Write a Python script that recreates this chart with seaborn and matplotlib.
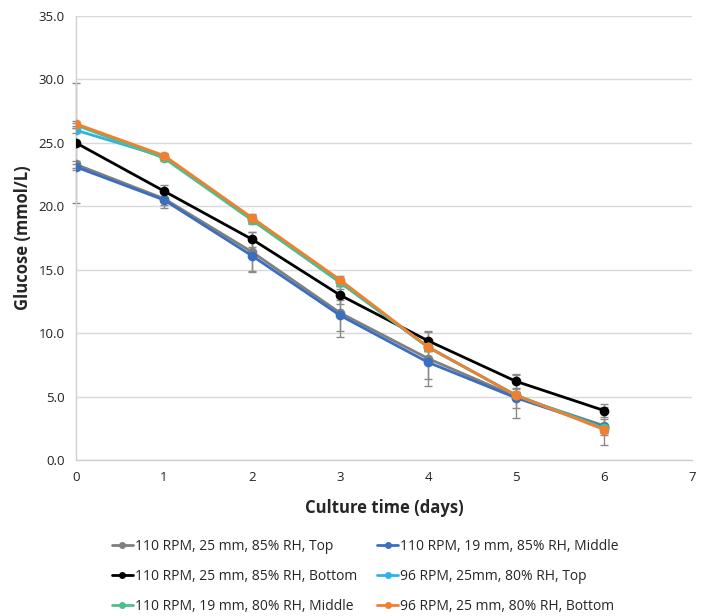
import numpy as np
import pandas as pd
import matplotlib
matplotlib.use("Agg")
import matplotlib.pyplot as plt
import seaborn as sns

days = [0, 1, 2, 3, 4, 5, 6]

series_names = [
    '110 RPM, 25 mm, 85% RH, Top',
    '110 RPM, 19 mm, 85% RH, Middle',
    '110 RPM, 25 mm, 85% RH, Bottom',
    '96 RPM, 25mm, 80% RH, Top',
    '110 RPM, 19 mm, 80% RH, Middle',
    '96 RPM, 25 mm, 80% RH, Bottom',
]
colors = ['#7F7F7F', '#3A6FC0', '#000000', '#2FB3E6', '#4DBF8C', '#F08030']

gray_top = [23.3, 20.6, 16.4, 11.6, 8.0, 5.0, 2.7]
blue_mid = [23.1, 20.5, 16.1, 11.4, 7.7, 4.9, 2.6]
black_bot = [25.0, 21.2, 17.4, 13.0, 9.4, 6.2, 3.9]
cyan_top = [26.0, 23.9, 19.0, 14.0, 8.9, 5.1, 2.5]
green_mid = [26.4, 23.8, 18.9, 14.0, 8.9, 5.1, 2.5]
orange_bot = [26.5, 24.0, 19.1, 14.2, 8.9, 5.1, 2.4]

gray_err = [0.3, 0.5, 1.6, 1.9, 2.2, 1.7, 1.5]
blue_err = [0.2, 0.6, 1.2, 1.2, 1.3, 0.8, 0.6]
black_err = [4.7, 0.5, 0.6, 0.7, 0.7, 0.6, 0.5]
cyan_err = [0.2, 0.2, 0.3, 0.3, 0.3, 0.3, 0.3]
green_err = [0.2, 0.2, 0.3, 0.3, 0.3, 0.3, 0.3]
orange_err = [0.2, 0.2, 0.3, 0.3, 0.3, 0.3, 0.3]

values = [gray_top, blue_mid, black_bot, cyan_top, green_mid, orange_bot]
errors = [gray_err, blue_err, black_err, cyan_err, green_err, orange_err]

rows = []
for name, vals in zip(series_names, values):
    for d, v in zip(days, vals):
        rows.append({'day': d, 'glucose': v, 'series': name})
df = pd.DataFrame(rows)

sns.set_style('white')
plt.rcParams['font.family'] = ['Open Sans', 'DejaVu Sans']

fig = plt.figure(figsize=(7.07, 6.16), dpi=100)
ax = fig.add_axes([0.1075, 0.2532, 0.8715, 0.7208])

# error bars behind the lines
for vals, err in zip(values, errors):
    ax.errorbar(days, vals, yerr=err, fmt='none', ecolor='#8A8A8A',
                elinewidth=1, capsize=3, capthick=1, zorder=1, clip_on=False)

sns.lineplot(data=df, x='day', y='glucose', hue='series', hue_order=series_names,
             palette=dict(zip(series_names, colors)), marker='o', markersize=7,
             markeredgewidth=0, linewidth=2, ax=ax, zorder=3, legend=False)

ax.set_xlim(0, 7)
ax.set_ylim(0, 35)
ax.set_xticks(range(0, 8))
ax.set_yticks(np.arange(0, 36, 5))
ax.set_yticklabels([f'{v:.1f}' for v in np.arange(0, 36, 5)])
ax.tick_params(axis='both', length=0, labelsize=9.5, colors='#222222')
ax.tick_params(axis='y', pad=8)
ax.tick_params(axis='x', pad=8)
ax.grid(axis='y', color='#D9D9D9', linewidth=1)
ax.set_axisbelow(True)
for s in ['top', 'right']:
    ax.spines[s].set_visible(False)
for s in ['left', 'bottom']:
    ax.spines[s].set_color('#D0D0D0')
    ax.spines[s].set_linewidth(1)

ax.set_xlabel('Culture time (days)', fontsize=12, fontweight='bold', labelpad=11)
ax.set_ylabel('Glucose (mmol/L)', fontsize=12, fontweight='bold', labelpad=5)

# legend laid out row by row: two columns
order = [0, 2, 4, 1, 3, 5]
handles = [plt.Line2D([], [], color=colors[i], marker='o', markersize=4,
                      linewidth=2) for i in order]
labels = [series_names[i] for i in order]
fig.legend(handles, labels, loc='upper left', bbox_to_anchor=(0.1405, 0.146),
           ncol=2, frameon=False, fontsize=10, handlelength=1.5,
           handletextpad=0.15, columnspacing=1.47, labelspacing=1.08)

fig.savefig('out.png', dpi=100)
